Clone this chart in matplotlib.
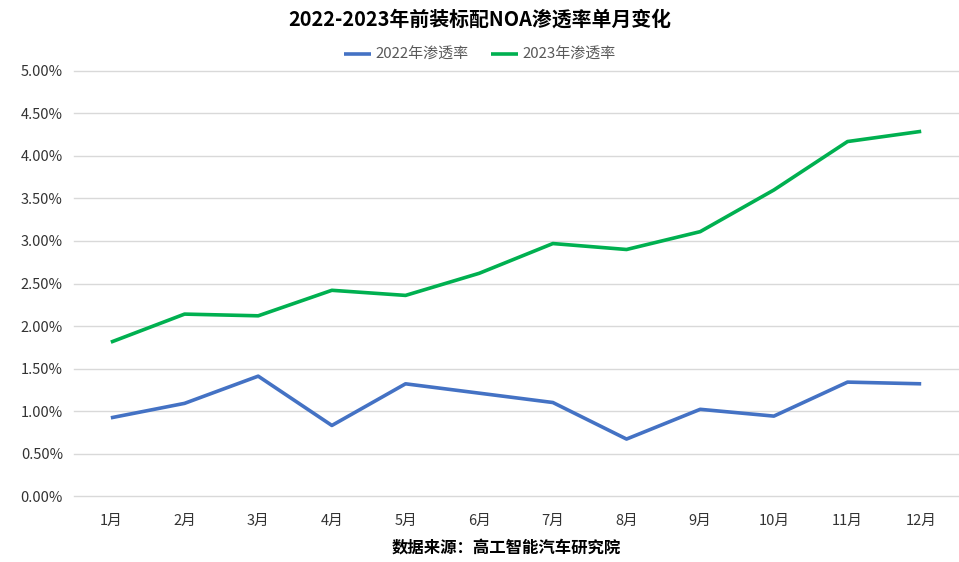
import matplotlib
matplotlib.use('Agg')
import matplotlib.pyplot as plt
from matplotlib.ticker import PercentFormatter

plt.rcParams['font.family'] = ['Noto Sans CJK SC', 'DejaVu Sans']

months = ['1月', '2月', '3月', '4月', '5月', '6月', '7月', '8月', '9月', '10月', '11月', '12月']
rate2022 = [0.92, 1.09, 1.41, 0.83, 1.32, 1.21, 1.10, 0.67, 1.02, 0.94, 1.34, 1.32]
rate2023 = [1.81, 2.14, 2.12, 2.42, 2.36, 2.62, 2.97, 2.90, 3.11, 3.60, 4.17, 4.29]
labels = ['2022年渗透率', '2023年渗透率']
colors = ['#4472C4', '#00B050']

fig = plt.figure(figsize=(9.59, 5.62), dpi=100)
ax = fig.add_axes([0.0772, 0.1174, 0.9218, 0.7563])

x = range(len(months))
ax.plot(x, rate2022, color=colors[0], lw=2.6, label=labels[0], solid_capstyle='butt')
ax.plot(x, rate2023, color=colors[1], lw=2.6, label=labels[1], solid_capstyle='butt')

ax.set_xlim(-0.5, len(months) - 0.5)
ax.set_ylim(0, 5)
ax.set_yticks([i * 0.5 for i in range(11)])
ax.yaxis.set_major_formatter(PercentFormatter(decimals=2))
ax.set_xticks(list(x))
ax.set_xticklabels(months)
ax.grid(axis='y', color='#D9D9D9', lw=1)
for gl in ax.get_ygridlines():
    gl.set_clip_on(False)
ax.set_axisbelow(True)
for s in ax.spines.values():
    s.set_visible(False)
ax.tick_params(length=0, labelsize=10.5, colors='#333333', pad=8)
ax.tick_params(axis='x', pad=13)

fig.text(0.5, 0.966, '2022-2023年前装标配NOA渗透率单月变化', ha='center', va='center',
         fontsize=14.3, fontweight='bold')
fig.legend(loc='center', bbox_to_anchor=(0.5, 0.902), ncol=2, frameon=False,
           fontsize=10.8, labelcolor='#595959', handlelength=1.8, columnspacing=1.5,
           handletextpad=0.3)
fig.text(0.528, 0.025, '数据来源：高工智能汽车研究院', ha='center', va='center',
         fontsize=11.8, fontweight='bold')

fig.savefig('out.png', dpi=100)
